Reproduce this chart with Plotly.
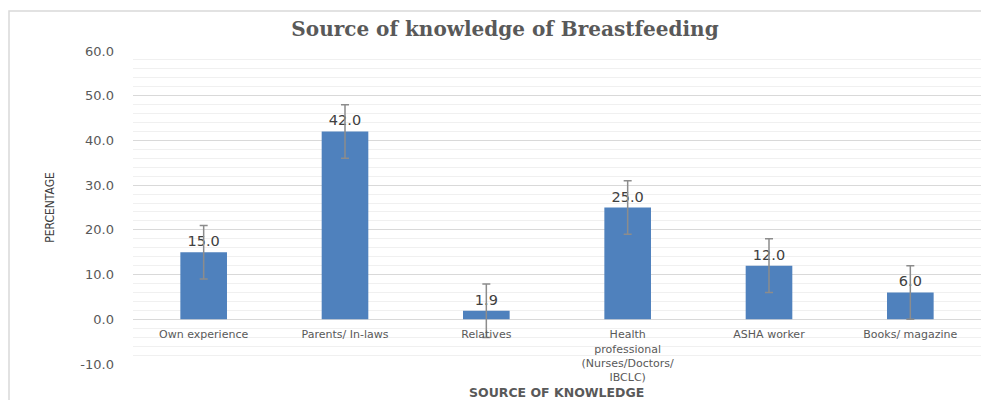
import plotly.graph_objects as go

categories = ["Own experience", "Parents/ In-laws", "Relatives",
              "Health<br>professional<br>(Nurses/Doctors/<br>IBCLC)",
              "ASHA worker", "Books/ magazine"]
values = [15.0, 42.0, 1.9, 25.0, 12.0, 6.0]
errors = [6.0, 6.0, 6.0, 6.0, 6.0, 6.0]
y_ticks = [-10, 0, 10, 20, 30, 40, 50, 60]

W, H = 973, 392
L, R, T, B = 125, 0, 43, 36
PW, PH = W - L - R, H - T - B

fig = go.Figure()
fig.add_trace(go.Bar(
    x=categories, y=values,
    marker=dict(color="#4f81bd", line=dict(width=0)),
    error_y=dict(type="data", array=errors, visible=True,
                 color="#8c8c8c", thickness=1.5, width=4),
    texttemplate="%{y:.1f}", textposition="outside",
    textfont=dict(family="DejaVu Sans", size=14.5, color="#404040"),
    cliponaxis=False,
))

fig.update_layout(
    width=W, height=H,
    margin=dict(l=L, r=R, t=T, b=B, autoexpand=False),
    paper_bgcolor="white", plot_bgcolor="white",
    bargap=0.67,
    showlegend=False,
    title=dict(text="<b>Source of knowledge of Breastfeeding</b>",
               font=dict(family="DejaVu Serif", size=20, color="#595959"),
               x=497 / W, xanchor="center", y=1 - 21 / H, yanchor="middle"),
    xaxis=dict(
        anchor="free", position=1/7,
        showline=False, ticks="",
        tickfont=dict(family="DejaVu Sans", size=11, color="#595959"),
        showgrid=False, ticklabelstandoff=7,
    ),
    yaxis=dict(
        range=[-10, 60], tickvals=y_ticks,
        ticktext=[f"{v:.1f}" for v in y_ticks],
        tickfont=dict(family="DejaVu Sans", size=13, color="#595959"),
        showgrid=True, gridcolor="#d9d9d9", gridwidth=1,
        minor=dict(dtick=2, showgrid=True, gridcolor="#f0f0f0", gridwidth=1),
        zeroline=True, zerolinecolor="#d9d9d9", zerolinewidth=1,
        showline=False, ticks="", ticklabelstandoff=18,
        title=dict(text="PERCENTAGE",
                   font=dict(family="DejaVu Sans Condensed, DejaVu Sans", size=12, color="#404040"),
                   standoff=23),
    ),
    annotations=[dict(
        text="<b>SOURCE OF KNOWLEDGE</b>", xref="paper", yref="paper",
        x=(548 - L) / PW, y=(H - B - 384) / PH, xanchor="center", yanchor="middle",
        showarrow=False,
        font=dict(family="DejaVu Sans", size=12.5, color="#595959"),
    )],
    shapes=[dict(type="rect", xref="paper", yref="paper",
                 x0=(1 - L) / PW, x1=1.05, y0=-0.3, y1=(H - B - 3) / PH,
                 line=dict(color="#d9d9d9", width=1.5), fillcolor="rgba(0,0,0,0)", layer="below")],
)

fig.write_html("out.html")
